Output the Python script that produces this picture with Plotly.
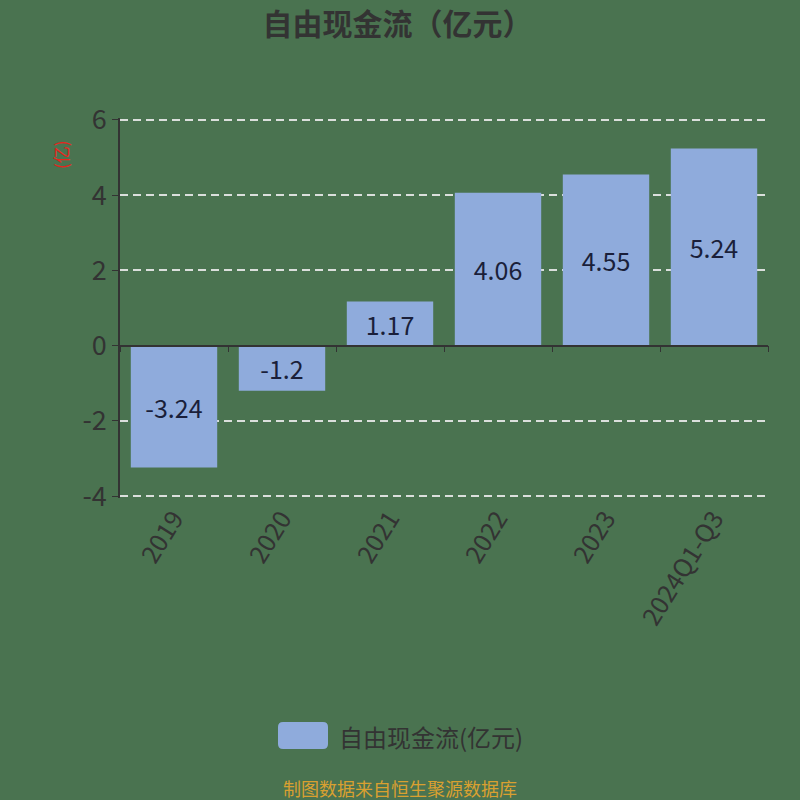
import plotly.graph_objects as go

categories = ["2019", "2020", "2021", "2022", "2023", "2024Q1-Q3"]
values = [-3.24, -1.2, 1.17, 4.06, 4.55, 5.24]
y_ticks = [-4, -2, 0, 2, 4, 6]
y_tick_text = ["-4", "-2", "0", "2", "4", "6"]
series_name = "自由现金流(亿元)"

FONT = "Noto Sans CJK SC"
BG = "#4a7350"
BAR = "#8fabdc"

# plot area geometry (pixels)
L, R, T, B = 120, 32, 118, 302
PW, PH = 800 - L - R, 800 - T - B
Y_RANGE = [-4.05, 6.05]


def px_x(px):
    return (px - L) / PW


def px_y(py):
    return (800 - B - py) / PH


fig = go.Figure()
fig.add_trace(go.Bar(
    x=categories, y=values, name=series_name, showlegend=False,
    marker=dict(color=BAR, line=dict(width=0)), width=0.8,
    text=[str(v) for v in values], textposition="inside",
    insidetextanchor="middle", textangle=0, constraintext="none",
    textfont=dict(family=FONT, size=25, color="#1a1f3a"),
))
fig.add_trace(go.Scatter(x=categories, y=values, xaxis="x2", mode="markers",
                         marker=dict(opacity=0), showlegend=False, hoverinfo="skip"))

# legend swatch (rounded rectangle)
x0, x1, y0, y1, r = px_x(278), px_x(328), px_y(749), px_y(722), 5
rx, ry = r / PW, r / PH
path = (f"M {x0+rx},{y0} L {x1-rx},{y0} Q {x1},{y0} {x1},{y0+ry} L {x1},{y1-ry} "
        f"Q {x1},{y1} {x1-rx},{y1} L {x0+rx},{y1} Q {x0},{y1} {x0},{y1-ry} "
        f"L {x0},{y0+ry} Q {x0},{y0} {x0+rx},{y0} Z")

fig.update_layout(
    width=800, height=800,
    paper_bgcolor=BG, plot_bgcolor=BG,
    margin=dict(l=L, r=R, t=T, b=B),
    title=dict(text="<b>自由现金流（亿元）</b>", x=0.497, xanchor="center",
               y=0.97, yanchor="middle", yref="container",
               font=dict(family=FONT, size=30, color="#333333")),
    showlegend=False,
    xaxis=dict(type="category", categoryorder="array", categoryarray=categories,
               showline=False, showgrid=False, zeroline=False, ticks="",
               tickangle=-58, tickfont=dict(family=FONT, size=25, color="#333333")),
    xaxis2=dict(matches="x", overlaying="x", anchor="free",
                position=(0 - Y_RANGE[0]) / (Y_RANGE[1] - Y_RANGE[0]), side="bottom",
                type="category", categoryorder="array", categoryarray=categories,
                showline=True, linecolor="#333333", linewidth=1.5,
                ticks="outside", tickson="boundaries", ticklen=6, tickcolor="#333333",
                showticklabels=False, showgrid=False, zeroline=False),
    yaxis=dict(range=Y_RANGE, tickvals=y_ticks, ticktext=y_tick_text,
               showline=True, linecolor="#333333", linewidth=1.5,
               ticks="outside", ticklen=6, tickcolor="#333333",
               showgrid=True, gridcolor="rgba(235,235,235,0.9)", griddash="8px,5px", gridwidth=1.5,
               zeroline=False, tickfont=dict(family=FONT, size=27, color="#333333")),
    shapes=[dict(type="path", xref="paper", yref="paper", path=path,
                 fillcolor=BAR, line=dict(width=0))],
    annotations=[
        dict(text="(亿)", xref="paper", yref="paper", x=px_x(60), y=px_y(155),
             xanchor="center", yanchor="middle", showarrow=False,
             textangle=-90, font=dict(family=FONT, size=17, color="#e8231c")),
        dict(text=series_name, xref="paper", yref="paper", x=px_x(337), y=px_y(736),
             xanchor="left", yanchor="middle", showarrow=False,
             font=dict(family=FONT, size=24, color="#333333")),
        dict(text="制图数据来自恒生聚源数据库", xref="paper", yref="paper", x=px_x(400), y=px_y(788),
             xanchor="center", yanchor="middle", showarrow=False,
             font=dict(family=FONT, size=18, color="#d9a030")),
    ],
)

fig.write_html("out.html", config={"displayModeBar": False},
               post_script="document.body.style.margin='0';")
